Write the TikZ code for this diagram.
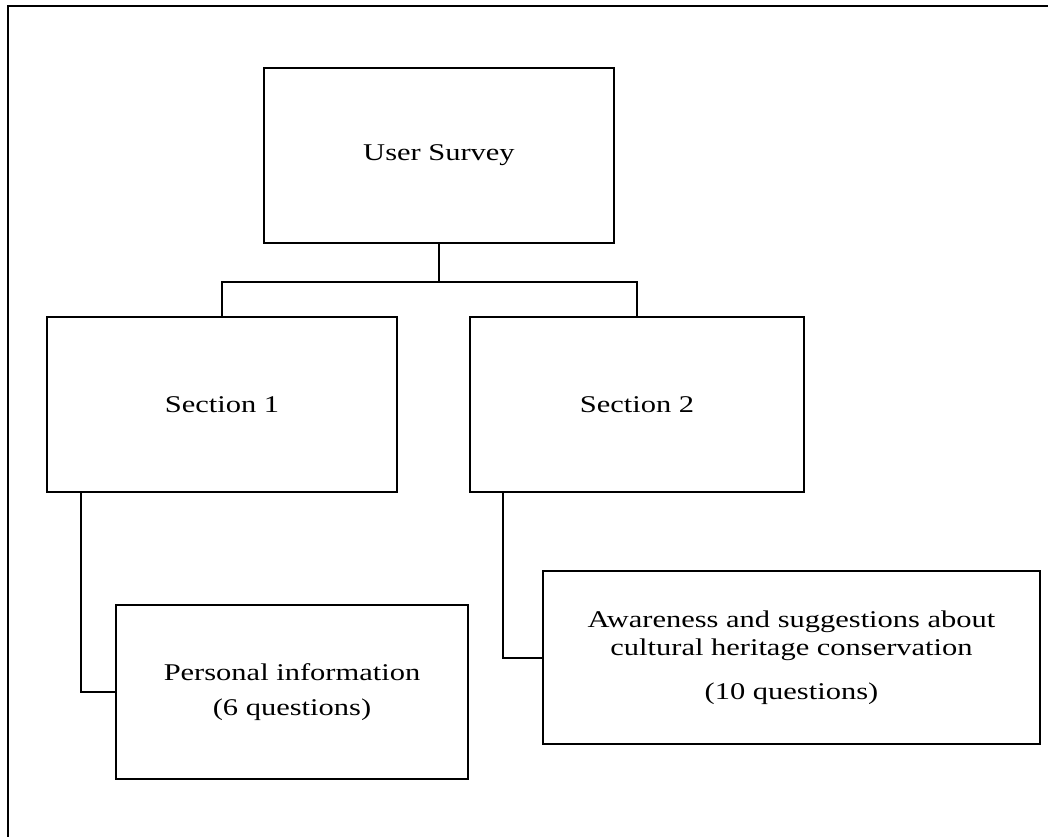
\documentclass[tikz,border=0pt]{standalone}
\usepackage{fontspec}
\setmainfont{Liberation Serif}[FakeStretch=1.27]
\usetikzlibrary{positioning}
\tikzset{
	surveybox/.style={rectangle, draw=black, line width=1.5pt, align=center,
		font=\fontsize{18}{21.6}\selectfont, inner sep=0pt},
	link/.style={draw=black, line width=1.5pt}
}

\begin{document}
\begin{tikzpicture}[x=0.75pt, y=-0.75pt]
	\useasboundingbox (0,0) rectangle (1048,836);
	\begin{scope}
		\clip (0,0) rectangle (1048,836);
		\draw[link] (8,6) rectangle (1100,900);
	\end{scope}
	% survey tree
	\node[surveybox, minimum width=262.5pt, minimum height=131.25pt] (us) at (439,155.5) {User Survey};
	\node[surveybox, minimum width=262.5pt, minimum height=131.25pt] (s1) at (222,404.5) {Section 1};
	\node[surveybox, minimum width=250.5pt, minimum height=131.25pt] (s2) at (637,404.5) {Section 2};
	\node[surveybox, minimum width=264pt, minimum height=130.5pt] (pers) at (292,692) {Personal information\\[5pt](6 questions)};
	\node[surveybox, minimum width=372.75pt, minimum height=129.75pt] (aware) at (791.5,657.5) {Awareness and suggestions about\\cultural heritage conservation\\[11pt](10 questions)};
	\draw[link] (us.south) -- ++(0,38) coordinate (bus) -| (s1.north);
	\draw[link] (bus) -| (s2.north);
	\draw[link] (s1.south west) ++(35,0) |- (pers.west);
	\draw[link] (s2.south west) ++(34,0) |- (aware.west);
\end{tikzpicture}
\end{document}
